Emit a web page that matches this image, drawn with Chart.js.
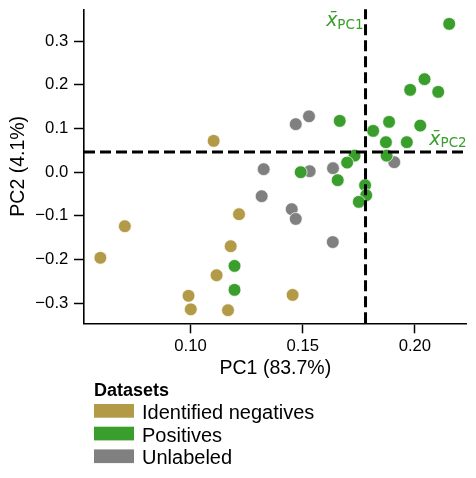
<!DOCTYPE html>
<html>
<head>
<meta charset="utf-8">
<script src="https://cdn.jsdelivr.net/npm/chart.js@4.4.1/dist/chart.umd.min.js"></script>
<style>
  html, body { margin: 0; padding: 0; background: #fff; }
</style>
</head>
<body>
<canvas id="pca" width="476" height="478"></canvas>
<script>
// groups, in legend order
const groupLabels = ["Identified negatives", "Positives", "Unlabeled"];
const groupColors = ["#b39a47", "#3a9e2c", "#808080"];

// PCA coordinates
const negativesPC1 = [0.1103, 0.0707, 0.0598, 0.1216, 0.1179, 0.1116, 0.0991, 0.1001, 0.1167, 0.1455];
const negativesPC2 = [0.0717, -0.1237, -0.1960, -0.0962, -0.1695, -0.2360, -0.2830, -0.3140, -0.3160, -0.2810];

const positivesPC1 = [0.2153, 0.2043, 0.1979, 0.2104, 0.1665, 0.1885, 0.2024, 0.1814, 0.1871, 0.1964,
                      0.1874, 0.1731, 0.1698, 0.1491, 0.1656, 0.1778, 0.1783, 0.1750, 0.1196, 0.1196];
const positivesPC2 = [0.3396, 0.2130, 0.1885, 0.1839, 0.1175, 0.1152, 0.1067, 0.0946, 0.0687, 0.0687,
                      0.0380, 0.0380, 0.0220, 0.0000, -0.0183, -0.0298, -0.0527, -0.0680, -0.2146, -0.2695];

const unlabeledPC1 = [0.1326, 0.1317, 0.1469, 0.1528, 0.1531, 0.1635, 0.1908, 0.1451, 0.1469, 0.1634];
const unlabeledPC2 = [0.0069, -0.0550, 0.1100, 0.1280, 0.0023, 0.0092, 0.0229, -0.0847, -0.1070, -0.1600];

// means of the positives (dashed lines)
const meanPC1 = 0.178;
const meanPC2 = 0.046;

const xTicks = [0.10, 0.15, 0.20];
const yTicks = [-0.3, -0.2, -0.1, 0.0, 0.1, 0.2, 0.3];
const xLabel = "PC1 (83.7%)";
const yLabel = "PC2 (4.1%)";
const legendTitle = "Datasets";

const sansFont = "'Liberation Sans', Arial, sans-serif";

const toPoints = (xs, ys) => xs.map((v, i) => ({ x: v, y: ys[i] }));

const groups = [
  { data: toPoints(negativesPC1, negativesPC2), order: 1 },
  { data: toPoints(positivesPC1, positivesPC2), order: 0 },
  { data: toPoints(unlabeledPC1, unlabeledPC2), order: 2 },
];

const datasets = groups.map((g, i) => ({
  label: groupLabels[i],
  data: g.data,
  order: g.order,
  backgroundColor: groupColors[i],
  borderColor: "#ffffff",
  borderWidth: 0.7,
  pointRadius: 6.4,
  pointHoverRadius: 6.4,
}));

// dashed mean lines plus the x-bar labels
const meanLines = {
  id: "meanLines",
  afterDatasetsDraw(chart) {
    const { ctx, chartArea: area } = chart;
    const xs = chart.scales.x;
    const ys = chart.scales.y;
    const px = xs.getPixelForValue(meanPC1);
    const py = ys.getPixelForValue(meanPC2);

    ctx.save();
    ctx.strokeStyle = "#000";
    ctx.lineWidth = 3;
    ctx.setLineDash([11, 5]);
    ctx.beginPath();
    ctx.moveTo(px, area.bottom);
    ctx.lineTo(px, area.top);
    ctx.stroke();
    ctx.beginPath();
    ctx.moveTo(area.left, py);
    ctx.lineTo(area.right, py);
    ctx.stroke();
    ctx.setLineDash([]);

    const drawMean = (sub, right, baseline) => {
      ctx.fillStyle = groupColors[1];
      ctx.textBaseline = "alphabetic";
      ctx.textAlign = "left";
      ctx.font = "13.5px 'DejaVu Sans'";
      const subW = ctx.measureText(sub).width;
      ctx.font = "italic 19px 'DejaVu Sans'";
      const mainW = ctx.measureText("x").width;
      const x0 = right - subW - mainW;
      ctx.fillText("x\u0304", x0, baseline);
      ctx.font = "13.5px 'DejaVu Sans'";
      ctx.fillText(sub, x0 + mainW, baseline + 2.5);
    };
    drawMean("PC1", px - 2, area.top + 16.7);
    drawMean("PC2", area.right, py - 7.5);
    ctx.restore();
  },
};

// legend below the axes, stacked vertically
const stackedLegend = {
  id: "stackedLegend",
  afterDraw(chart) {
    const ctx = chart.ctx;
    ctx.save();
    ctx.fillStyle = "#000";
    ctx.textAlign = "left";
    ctx.textBaseline = "alphabetic";
    ctx.font = "bold 18px " + sansFont;
    ctx.fillText(legendTitle, 94, 396);
    chart.data.datasets.forEach((ds, i) => {
      const top = 404 + i * 22.7;
      ctx.fillStyle = ds.backgroundColor;
      ctx.fillRect(94, top, 40, 13.7);
      ctx.fillStyle = "#000";
      ctx.font = "20px " + sansFont;
      ctx.fillText(ds.label, 142, top + 14.8);
    });
    ctx.restore();
  },
};

const axisCommon = {
  type: "linear",
  grid: {
    display: true,
    drawOnChartArea: false,
    drawTicks: true,
    tickLength: 10,
    tickWidth: 1.5,
    tickColor: "#000",
  },
  border: { display: true, color: "#000", width: 1.6 },
};

new Chart(document.getElementById("pca"), {
  type: "scatter",
  data: { datasets },
  options: {
    responsive: false,
    animation: false,
    layout: { padding: { top: 9.3, right: 9.3, left: 0, bottom: 97.2 } },
    plugins: {
      legend: { display: false },
      tooltip: { enabled: false },
    },
    scales: {
      x: {
        ...axisCommon,
        position: "bottom",
        min: 0.0525,
        max: 0.2231,
        afterBuildTicks: (scale) => { scale.ticks = xTicks.map((v) => ({ value: v })); },
        afterFit: (scale) => {
          scale.height = 57.5;
          scale.paddingLeft = 0;
          scale.paddingRight = 0;
        },
        ticks: {
          color: "#000",
          padding: 3.5,
          maxRotation: 0,
          font: { family: sansFont, size: 16.7 },
          callback: (v) => Number(v).toFixed(2),
        },
        title: {
          display: true,
          text: xLabel,
          color: "#000",
          padding: { top: 0, bottom: 0 },
          font: { family: sansFont, size: 19.5 },
        },
      },
      y: {
        ...axisCommon,
        position: "left",
        min: -0.346,
        max: 0.373,
        afterBuildTicks: (scale) => { scale.ticks = yTicks.map((v) => ({ value: v })); },
        afterFit: (scale) => {
          scale.width = 84;
          scale.paddingTop = 0;
          scale.paddingBottom = 0;
        },
        ticks: {
          color: "#000",
          padding: 5.7,
          font: { family: sansFont, size: 16.7 },
          callback: (v) => Number(v).toFixed(1).replace("-", "\u2212"),
        },
        title: {
          display: true,
          text: yLabel,
          color: "#000",
          padding: { top: 7, bottom: 0 },
          font: { family: sansFont, size: 19.5 },
        },
      },
    },
  },
  plugins: [meanLines, stackedLegend],
});
</script>
</body>
</html>
